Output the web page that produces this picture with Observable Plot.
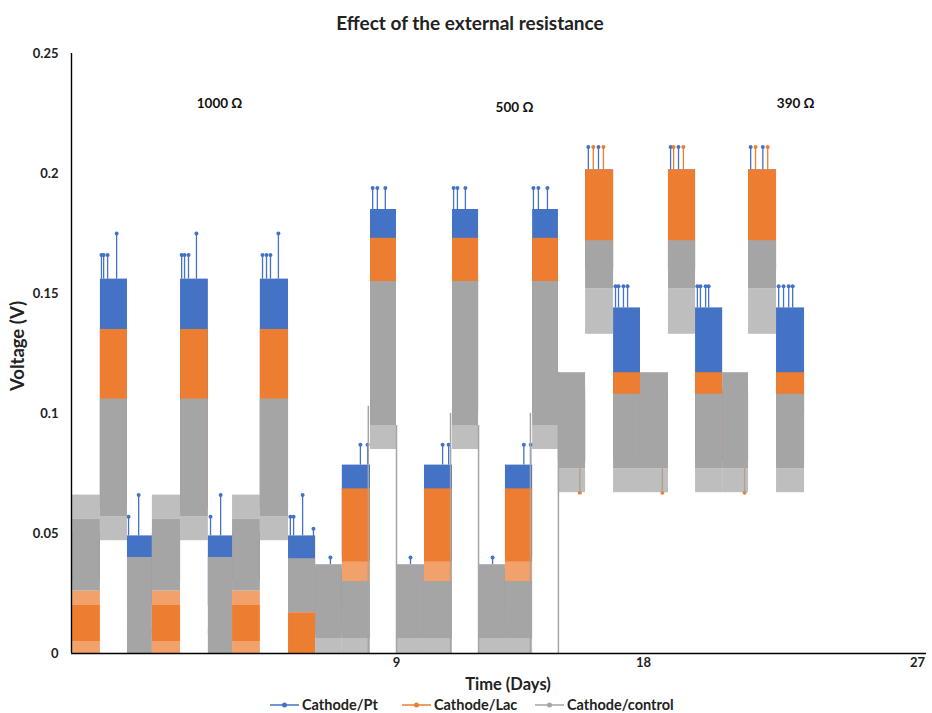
<!DOCTYPE html>
<html>
<head>
<meta charset="utf-8">
<script src="https://cdn.jsdelivr.net/npm/d3@7"></script>
<script src="https://cdn.jsdelivr.net/npm/@observablehq/plot@0.6"></script>
<style>
  html, body { margin: 0; padding: 0; background: #fff; }
  #wrap { position: relative; width: 932px; height: 713px; overflow: hidden; font-family: Lato, "Open Sans", sans-serif; color: #222; }
  #chart { position: absolute; left: 0; top: 0; }
  #title { position: absolute; left: 0; top: 11px; width: 940px; text-align: center; font-weight: 700; font-size: 19px; line-height: 24px; }
  #xlabel { position: absolute; left: 0; top: 674px; width: 1016px; text-align: center; font-weight: 700; font-size: 16.5px; line-height: 20px; }
  #ylabel { position: absolute; left: 17px; top: 346px; transform: translate(-50%, -50%) rotate(-90deg); font-weight: 700; font-size: 18.5px; white-space: nowrap; }
  .leg { position: absolute; top: 697px; height: 15px; line-height: 15px; display: flex; align-items: center; font-size: 14.5px; font-weight: 700; }
  .leg svg { margin-right: 3px; }
</style>
</head>
<body>
<div id="wrap">
  <div id="chart"></div>
  <div id="title">Effect of the external resistance</div>
  <div id="xlabel">Time (Days)</div>
  <div id="ylabel">Voltage (V)</div>
  <div id="legend"></div>
</div>
<script>
// ---------- data ----------
const dayTicks = [9, 18, 27];
const voltTicks = [0, 0.05, 0.1, 0.15, 0.2, 0.25];
const seriesNames = ["Cathode/Pt", "Cathode/Lac", "Cathode/control"];
const seriesColors = ["#4472C4", "#ED7D31", "#A5A5A5"];

// oscillation envelopes: [startDay, endDay, low V, high V]
const ptSolid = [
  [0.03, 0.80, 0.030, 0.050], [0.80, 1.55, 0.060, 0.156], [1.55, 2.24, 0.020, 0.049],
  [2.24, 3.02, 0.030, 0.050], [3.02, 3.79, 0.060, 0.156], [3.79, 4.46, 0.020, 0.049],
  [4.46, 5.23, 0.030, 0.050], [5.23, 6.01, 0.060, 0.156], [6.01, 6.76, 0.020, 0.049],
  [6.76, 7.50, 0.010, 0.035], [7.50, 8.28, 0.040, 0.0785], [8.28, 9.00, 0.100, 0.185],
  [9.00, 10.02, 0.010, 0.035], [10.02, 11.04, 0.040, 0.0785], [11.04, 11.99, 0.100, 0.185],
  [11.99, 12.97, 0.010, 0.035], [12.97, 13.96, 0.040, 0.0785], [13.96, 14.90, 0.100, 0.185],
  [14.90, 15.89, 0.080, 0.110], [15.89, 16.91, 0.160, 0.2015], [16.91, 17.89, 0.100, 0.144],
  [17.89, 18.82, 0.080, 0.110], [18.82, 19.71, 0.160, 0.2015], [19.71, 20.60, 0.100, 0.144],
  [20.60, 21.45, 0.080, 0.110], [21.45, 22.37, 0.160, 0.2015], [22.37, 23.29, 0.100, 0.144]
];
const ptFringe = [];
// isolated peaks: [day, from V, to V]
const ptSpikes = [
  [0.83, 0.156, 0.166], [0.89, 0.156, 0.166], [1.00, 0.156, 0.166], [1.25, 0.156, 0.175],
  [3.05, 0.156, 0.166], [3.13, 0.156, 0.166], [3.24, 0.156, 0.166], [3.46, 0.156, 0.175],
  [5.29, 0.156, 0.166], [5.40, 0.156, 0.166], [5.51, 0.156, 0.166], [5.73, 0.156, 0.175],
  [1.58, 0.049, 0.057], [1.86, 0.049, 0.066], [3.85, 0.049, 0.057], [4.13, 0.049, 0.066],
  [6.06, 0.049, 0.057], [6.15, 0.049, 0.057], [6.40, 0.049, 0.066], [6.70, 0.045, 0.052],
  [7.17, 0.037, 0.040], [9.51, 0.037, 0.040], [12.50, 0.037, 0.040],
  [8.00, 0.0785, 0.087], [8.20, 0.0785, 0.087], [10.68, 0.0785, 0.087], [10.90, 0.0785, 0.087],
  [13.64, 0.0785, 0.087], [13.89, 0.0785, 0.087],
  [8.34, 0.185, 0.194], [8.47, 0.185, 0.194], [8.69, 0.185, 0.194],
  [11.08, 0.185, 0.194], [11.22, 0.185, 0.194], [11.51, 0.185, 0.194],
  [13.99, 0.185, 0.194], [14.17, 0.185, 0.194], [14.50, 0.185, 0.194],
  [15.99, 0.2015, 0.211], [16.36, 0.2015, 0.211], [18.89, 0.2015, 0.211], [19.15, 0.2015, 0.211],
  [21.52, 0.2015, 0.211], [21.92, 0.2015, 0.211],
  [16.98, 0.144, 0.153], [17.09, 0.144, 0.153], [17.27, 0.144, 0.153], [17.42, 0.144, 0.153],
  [19.77, 0.144, 0.153], [19.87, 0.144, 0.153], [20.04, 0.144, 0.153], [20.14, 0.144, 0.153],
  [22.44, 0.144, 0.153], [22.60, 0.144, 0.153], [22.77, 0.144, 0.153], [22.90, 0.144, 0.153]
];

const lacSolid = [
  [0.03, 0.80, 0.005, 0.020], [0.80, 1.55, 0.060, 0.135], [1.55, 2.24, 0.008, 0.010],
  [2.24, 3.02, 0.005, 0.020], [3.02, 3.79, 0.060, 0.135], [3.79, 4.46, 0.008, 0.010],
  [4.46, 5.23, 0.005, 0.020], [5.23, 6.01, 0.060, 0.135], [6.01, 6.76, 0.000, 0.017],
  [6.76, 7.50, 0.008, 0.020], [7.50, 8.28, 0.038, 0.0686], [8.28, 9.00, 0.100, 0.173],
  [9.00, 10.02, 0.008, 0.020], [10.02, 11.04, 0.038, 0.0686], [11.04, 11.99, 0.100, 0.173],
  [11.99, 12.97, 0.008, 0.020], [12.97, 13.96, 0.038, 0.0686], [13.96, 14.90, 0.100, 0.173],
  [14.90, 15.89, 0.080, 0.105], [15.89, 16.91, 0.160, 0.2015], [16.91, 17.89, 0.080, 0.117],
  [17.89, 18.82, 0.080, 0.105], [18.82, 19.71, 0.160, 0.2015], [19.71, 20.60, 0.080, 0.117],
  [20.60, 21.45, 0.080, 0.105], [21.45, 22.37, 0.160, 0.2015], [22.37, 23.29, 0.080, 0.117]
];
const lacFringe = [
  [0.03, 0.80, 0.000, 0.005], [0.03, 0.80, 0.020, 0.026],
  [2.24, 3.02, 0.000, 0.005], [2.24, 3.02, 0.020, 0.026],
  [4.46, 5.23, 0.000, 0.005], [4.46, 5.23, 0.020, 0.026],
  [7.50, 8.28, 0.030, 0.038], [10.02, 11.04, 0.030, 0.038], [12.97, 13.96, 0.030, 0.038]
];
const lacSpikes = [
  [16.17, 0.2015, 0.211], [16.54, 0.2015, 0.211], [18.99, 0.2015, 0.211], [19.31, 0.2015, 0.211],
  [21.68, 0.2015, 0.211], [22.08, 0.2015, 0.211],
  [15.68, 0.077, 0.067], [18.62, 0.077, 0.067], [21.32, 0.077, 0.067]
];

const ctlSolid = [
  [0.03, 0.80, 0.026, 0.056], [0.80, 1.55, 0.057, 0.106], [1.55, 2.24, 0.000, 0.040],
  [2.24, 3.02, 0.026, 0.056], [3.02, 3.79, 0.057, 0.106], [3.79, 4.46, 0.000, 0.040],
  [4.46, 5.23, 0.026, 0.056], [5.23, 6.01, 0.057, 0.106], [6.01, 6.76, 0.017, 0.0395],
  [6.76, 7.50, 0.006, 0.037], [7.50, 8.28, 0.006, 0.030], [8.28, 9.00, 0.095, 0.155],
  [9.00, 10.02, 0.006, 0.037], [10.02, 11.04, 0.006, 0.030], [11.04, 11.99, 0.095, 0.155],
  [11.99, 12.97, 0.006, 0.037], [12.97, 13.96, 0.006, 0.030], [13.96, 14.90, 0.095, 0.155],
  [14.90, 15.89, 0.077, 0.117], [15.89, 16.91, 0.152, 0.172], [16.91, 17.89, 0.077, 0.108],
  [17.89, 18.82, 0.077, 0.117], [18.82, 19.71, 0.152, 0.172], [19.71, 20.60, 0.077, 0.108],
  [20.60, 21.45, 0.077, 0.117], [21.45, 22.37, 0.152, 0.172], [22.37, 23.29, 0.077, 0.108]
];
const ctlFringe = [
  [0.03, 0.80, 0.056, 0.066], [0.80, 1.55, 0.047, 0.057],
  [2.24, 3.02, 0.056, 0.066], [3.02, 3.79, 0.047, 0.057],
  [4.46, 5.23, 0.056, 0.066], [5.23, 6.01, 0.047, 0.057],
  [6.76, 7.50, 0.000, 0.006], [7.50, 8.28, 0.000, 0.006], [8.28, 9.00, 0.085, 0.095],
  [9.00, 10.02, 0.000, 0.006], [10.02, 11.04, 0.000, 0.006], [11.04, 11.99, 0.085, 0.095],
  [11.99, 12.97, 0.000, 0.006], [12.97, 13.96, 0.000, 0.006], [13.96, 14.90, 0.085, 0.095],
  [14.90, 15.89, 0.067, 0.077], [15.89, 16.91, 0.133, 0.152], [16.91, 17.89, 0.067, 0.077],
  [17.89, 18.82, 0.067, 0.077], [18.82, 19.71, 0.133, 0.152], [19.71, 20.60, 0.067, 0.077],
  [20.60, 21.45, 0.067, 0.077], [21.45, 22.37, 0.133, 0.152], [22.37, 23.29, 0.067, 0.077]
];
// long transitions of the control line: [day, from V, to V]
const ctlJumps = [
  [8.22, 0.000, 0.103], [9.00, 0.000, 0.095], [10.97, 0.000, 0.100],
  [11.99, 0.000, 0.095], [13.88, 0.000, 0.100], [14.90, 0.000, 0.117]
];

const resistLabels = ["1000 Ω", "500 Ω", "390 Ω"];
const resistDay = [4.1, 13.3, 23.0];
const resistVolt = [0.229, 0.2275, 0.229];

// ---------- chart ----------
const X1 = d => d[0], X2 = d => d[1], Y1 = d => d[2], Y2 = d => d[3];
function layer(solid, fringe, spikes, color) {
  return [
    Plot.rect(solid, {x1: X1, x2: X2, y1: Y1, y2: Y2, fill: color}),
    Plot.rect(fringe, {x1: X1, x2: X2, y1: Y1, y2: Y2, fill: color, fillOpacity: 0.72}),
    Plot.ruleX(spikes, {x: d => d[0], y1: d => d[1], y2: d => d[2], stroke: color, strokeWidth: 1.3}),
    Plot.dot(spikes, {x: d => d[0], y: d => d[2], r: 2, fill: color, stroke: "none"})
  ];
}

const annos = resistLabels.map((t, i) => ({t, d: resistDay[i], v: resistVolt[i]}));

const chart = Plot.plot({
  width: 932,
  height: 713,
  marginLeft: 71,
  marginRight: 6,
  marginTop: 53,
  marginBottom: 60,
  style: {fontFamily: "Lato, 'Open Sans', sans-serif", fontSize: "13px", fontWeight: 700, color: "#222", background: "#fff"},
  x: {type: "linear", domain: [0, 9, 18, 27, 27.3], range: [71, 396, 643, 917, 926]},
  y: {domain: [0, 0.25], range: [653, 53]},
  marks: [
    ...layer(ptSolid, ptFringe, ptSpikes, seriesColors[0]),
    ...layer(lacSolid, lacFringe, lacSpikes, seriesColors[1]),
    ...layer(ctlSolid, ctlFringe, [], seriesColors[2]),
    Plot.ruleX(ctlJumps, {x: d => d[0], y1: d => d[1], y2: d => d[2], stroke: seriesColors[2], strokeWidth: 1.5}),
    Plot.ruleY([0], {stroke: "#000", strokeWidth: 1.4}),
    Plot.ruleX([0], {y1: 0, y2: 0.25, stroke: "#000", strokeWidth: 1.4}),
    Plot.axisX({ticks: dayTicks, tickSize: 0, tickPadding: 4, label: null, fontSize: 13}),
    Plot.axisY({ticks: voltTicks, tickSize: 0, tickPadding: 13, tickFormat: d => String(d), label: null, fontSize: 13}),
    Plot.text(annos, {x: "d", y: "v", text: "t", fontSize: 13.5, fontWeight: 700, fill: "#111"})
  ]
});
document.getElementById("chart").appendChild(chart);

// ---------- legend ----------
const legLeft = [270, 402, 535];
const legend = document.getElementById("legend");
seriesNames.forEach((name, i) => {
  const item = document.createElement("div");
  item.className = "leg";
  item.style.left = legLeft[i] + "px";
  item.innerHTML = `<svg width="29" height="10"><line x1="0" y1="5" x2="29" y2="5" stroke="${seriesColors[i]}" stroke-width="1.5"/><circle cx="14.5" cy="5" r="2.5" fill="${seriesColors[i]}"/></svg><span>${name}</span>`;
  legend.appendChild(item);
});
</script>
</body>
</html>
